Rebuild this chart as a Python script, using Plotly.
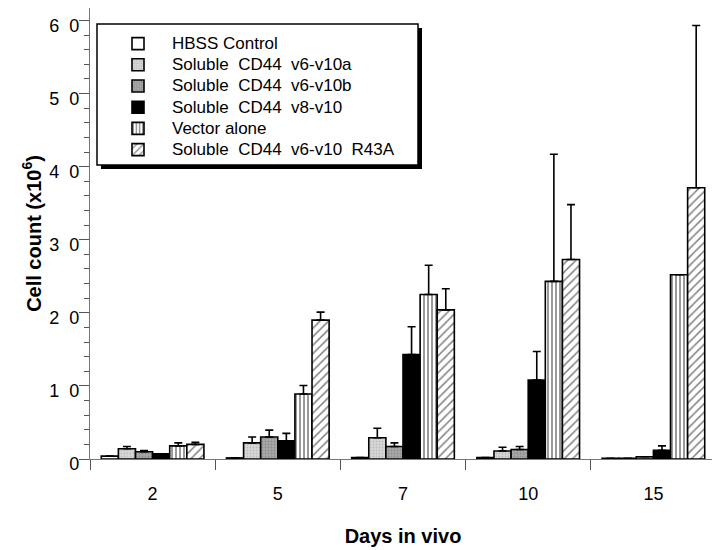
import plotly.graph_objects as go

days = ["2", "5", "7", "10", "15"]

series_names = [
    "HBSS Control",
    "Soluble  CD44  v6-v10a",
    "Soluble  CD44  v6-v10b",
    "Soluble  CD44  v8-v10",
    "Vector alone",
    "Soluble  CD44  v6-v10  R43A",
]

hbss = [0.4, 0.15, 0.2, 0.2, 0.1]
v6v10a = [1.4, 2.2, 2.9, 1.1, 0.1]
v6v10b = [1.0, 3.0, 1.7, 1.3, 0.3]
v8v10 = [0.7, 2.5, 14.3, 10.8, 1.2]
vector = [1.8, 8.9, 22.5, 24.3, 25.2]
r43a = [2.0, 19.0, 20.4, 27.3, 37.1]

hbss_err = [None, None, None, None, None]
v6v10a_err = [0.3, 0.8, 1.3, 0.5, None]
v6v10b_err = [0.15, 0.95, 0.5, 0.4, None]
v8v10_err = [None, 1.0, 3.8, 3.9, 0.6]
vector_err = [0.4, 1.15, 4.0, 17.4, None]
r43a_err = [0.3, 1.1, 2.9, 7.5, 22.2]

y_ticks = [0, 10, 20, 30, 40, 50, 60]
y_ticktext = ["0", "1\u20070", "2\u20070", "3\u20070", "4\u20070", "5\u20070", "6\u20070"]

values = [hbss, v6v10a, v6v10b, v8v10, vector, r43a]
errors = [hbss_err, v6v10a_err, v6v10b_err, v8v10_err, vector_err, r43a_err]

styles = [
    dict(color="white"),
    dict(color="#cfcfcf", pattern=dict(shape=".", fgcolor="#a0a0a0", bgcolor="#d8d8d8", size=3, solidity=0.3)),
    dict(color="#9a9a9a", pattern=dict(shape=".", fgcolor="#707070", bgcolor="#a8a8a8", size=3, solidity=0.3)),
    dict(color="black"),
    dict(color="white", pattern=dict(shape="|", fgcolor="black", bgcolor="white", size=4, solidity=0.4)),
    dict(color="white", pattern=dict(shape="/", fgcolor="black", bgcolor="white", size=6, solidity=0.25)),
]

fig = go.Figure()
for name, v, e, st in zip(series_names, values, errors, styles):
    marker = dict(line=dict(color="black", width=1.6), **st)
    label = '<span style="font-size:17px">' + name.replace("  ", "\u00a0\u00a0") + "</span>"
    fig.add_trace(go.Bar(
        x=days, y=v, name=label,
        marker=marker,
        error_y=dict(type="data", symmetric=False, array=e,
                     arrayminus=[0] * len(e), color="black",
                     thickness=1.6, width=4),
    ))

# the page body adds an 8px offset; figure coordinates below are page - 8
OFF = 8
W, H = 712, 542
L, R, T, B = 82, 4, 0, 91
pw, ph = W - L - R, H - T - B

def px(x_page):
    return (x_page - OFF - L) / pw

def py(y_page):
    return (H - B - (y_page - OFF)) / ph

box = dict(x0=97, x1=418, y0=24, y1=165)
shapes = [
    dict(type="rect", xref="paper", yref="paper",
         x0=px(box["x0"] + 4), x1=px(box["x1"] + 4),
         y0=py(box["y1"] + 4), y1=py(box["y0"] + 4),
         fillcolor="black", line=dict(width=0)),
    dict(type="rect", xref="paper", yref="paper",
         x0=px(box["x0"]), x1=px(box["x1"]),
         y0=py(box["y1"]), y1=py(box["y0"]),
         fillcolor="white", line=dict(color="black", width=1.5)),
]

fig.update_layout(
    width=W, height=H,
    margin=dict(l=L, r=R, t=T, b=B, autoexpand=False),
    paper_bgcolor="white", plot_bgcolor="white",
    barmode="group", bargap=0.18, bargroupgap=0,
    font=dict(family="Liberation Sans, Arial, sans-serif", color="black"),
    shapes=shapes,
    showlegend=True,
    legend=dict(x=px(104), y=py(28), xanchor="left", yanchor="top",
                bgcolor="rgba(0,0,0,0)", borderwidth=0,
                font=dict(size=14, color="black"),
                itemwidth=58, indentation=0),
    xaxis=dict(
        type="category", tickson="boundaries", ticks="outside", ticklen=10,
        tickcolor="#555", tickwidth=1, automargin=False,
        showline=True, linecolor="#777", linewidth=1.2, mirror=True,
        tickfont=dict(size=18), ticklabelstandoff=18,
        title=dict(text="<b>Days in vivo</b>", font=dict(size=20), standoff=26),
        showgrid=False,
    ),
    yaxis=dict(
        range=[0, 61.7], tickvals=y_ticks, ticktext=y_ticktext,
        ticks="outside", ticklen=10, tickcolor="#555", tickwidth=1, automargin=False,
        minor=dict(dtick=2, ticks="outside", ticklen=5, tickcolor="#555", tickwidth=1),
        showline=True, linecolor="#777", linewidth=1.2, mirror=True,
        tickfont=dict(size=18), ticklabelshift=5, ticklabelstandoff=-4,
        ticklabeloverflow="allow",
        title=dict(text="<b>Cell count (x10<sup>6</sup>)</b>", font=dict(size=20), standoff=2),
        showgrid=False, zeroline=False,
    ),
)

fig.write_html("out.html")
